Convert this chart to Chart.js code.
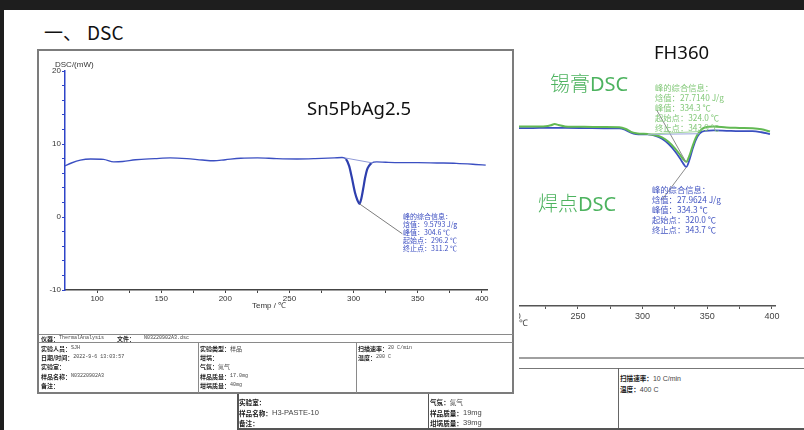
<!DOCTYPE html>
<html>
<head>
<meta charset="utf-8">
<script src="https://cdn.jsdelivr.net/npm/chart.js@4.4.1/dist/chart.umd.min.js"></script>
<style>
  html, body { margin: 0; padding: 0; background: #fff; }
  body { width: 804px; height: 430px; position: relative; overflow: hidden; font-family: "Liberation Sans", Arial, sans-serif; }
  .abs { position: absolute; white-space: nowrap; }
  .cjk { font-family: "Noto Sans CJK SC", sans-serif; }
  .hl { position: absolute; height: 0; border-top: 1px solid #8a8a8a; }
  .vl { position: absolute; width: 0; border-left: 1px solid #8a8a8a; }
  .row { position: absolute; white-space: nowrap; overflow: visible; color: #444; }
  .row b { font-family: "Noto Sans CJK SC", sans-serif; font-weight: 700; color: #222; vertical-align: top; }
  .row i { font-style: normal; vertical-align: top; color: #444; }
  .note { font-family: "Noto Sans CJK SC", sans-serif; }
</style>
</head>
<body>
<!-- dark frame strips -->
<div class="abs" style="left:0;top:0;width:804px;height:10px;background:#1e1e1e"></div>
<div class="abs" style="left:0;top:0;width:4px;height:430px;background:#1e1e1e"></div>

<div class="abs cjk" style="left:44px;top:19px;font-size:19px;line-height:26px;color:#111">一、<span style="margin-left:5px">DSC</span></div>

<!-- right plot (FH360), clipped on its left side -->
<div class="abs" style="left:519px;top:40px;width:285px;height:300px;overflow:hidden">
  <canvas id="fh" width="324" height="300" style="position:absolute;left:-39px;top:0;width:324px;height:300px"></canvas>
  <div class="abs" style="left:-51px;top:278px;width:60px;text-align:right;font-size:9px;line-height:10px;color:#444">Temp / ℃</div>
</div>
<div class="abs" style="left:654px;top:39px;font-family:'Noto Sans',sans-serif;font-size:18.5px;line-height:26px;color:#111">FH360</div>
<div class="abs" style="left:550px;top:69px;font-size:20px;line-height:28px;color:#4db35f"><span class="cjk" style="font-weight:300">锡膏</span><span style="font-family:'Noto Sans',sans-serif">DSC</span></div>
<div class="abs" style="left:538px;top:189px;font-size:20px;line-height:28px;color:#4db35f"><span class="cjk" style="font-weight:300">焊点</span><span style="font-family:'Noto Sans',sans-serif">DSC</span></div>
<div class="abs note" style="left:655px;top:82px;font-size:8.3px;line-height:10px;color:#84c97a">峰的综合信息：<br>焓值：27.7140 J/g<br>峰值：334.3 ℃<br>起始点：324.0 ℃<br>终止点：343.9 ℃</div>
<div class="abs note" style="left:652px;top:184px;font-size:8.3px;line-height:10px;color:#4456c2">峰的综合信息：<br>焓值：27.9624 J/g<br>峰值：334.3 ℃<br>起始点：320.0 ℃<br>终止点：343.7 ℃</div>

<!-- right info table frame -->
<div class="hl" style="left:519px;top:357px;width:285px;border-top:2px solid #a0a0a0"></div>
<div class="hl" style="left:519px;top:368px;width:285px;border-top-color:#777"></div>
<div class="vl" style="left:618px;top:368px;height:61px;border-left-color:#666"></div>
<div class="hl" style="left:237px;top:428px;width:567px;border-top:2px solid #555"></div>
<div class="vl" style="left:237px;top:393px;height:36px;border-left:2px solid #555"></div>
<div class="vl" style="left:428px;top:393px;height:36px;border-left-color:#555"></div>

<!-- left panel (Sn5PbAg2.5) -->
<div class="abs" style="left:37px;top:49px;width:477px;height:345px;box-sizing:border-box;border:2px solid #7c7c7c;background:#fff"></div>
<canvas id="sn" class="abs" width="475" height="285" style="left:38px;top:50px;width:475px;height:285px"></canvas>
<div class="abs" style="left:55px;top:60px;font-size:8px;line-height:9px;color:#333">DSC/(mW)</div>
<div class="abs" style="left:252px;top:301px;font-size:8px;line-height:10px;color:#333">Temp / ℃</div>
<div class="abs" style="left:307px;top:94px;font-family:'Noto Sans',sans-serif;font-size:18.5px;line-height:28px;color:#111">Sn5PbAg2.5</div>
<div class="abs note" style="left:403px;top:212px;font-size:7px;line-height:8px;color:#3a4cc0">峰的综合信息：<br>焓值：9.5793 J/g<br>峰值：304.6 ℃<br>起始点：296.2 ℃<br>终止点：311.2 ℃</div>

<div class="hl" style="left:39px;top:334px;width:474px"></div>
<div class="hl" style="left:39px;top:342px;width:474px"></div>
<div class="vl" style="left:198px;top:342px;height:51px"></div>
<div class="vl" style="left:356px;top:342px;height:51px"></div>

<script>
// ---- Sn5PbAg2.5 heat-flow trace (temperature in °C, DSC in mW) ----
const snTemp = [75, 80, 87, 95, 105, 113, 120, 130, 145, 157, 170, 182, 191, 200, 212, 225, 240, 256, 270, 285, 291, 294, 296.5, 298.5, 301, 303, 304.6, 306, 307.5, 309, 310.5, 312, 314, 318, 325, 336, 350, 365, 380, 395, 403];
const snDsc  = [7.0, 7.4, 7.8, 7.95, 7.9, 7.55, 7.6, 7.85, 8.0, 8.1, 8.0, 7.8, 7.7, 7.85, 8.05, 8.1, 8.0, 7.95, 8.0, 8.1, 8.15, 7.95, 7.0, 5.5, 3.4, 2.3, 1.8, 2.5, 3.9, 5.4, 6.5, 7.0, 7.4, 7.55, 7.5, 7.45, 7.45, 7.4, 7.35, 7.2, 7.1];
// integration baseline under the melting peak
const snBaseTemp = [293, 315];
const snBaseDsc  = [8.1, 7.4];
// leader from the peak to its note
const snLeadTemp = [304.6, 338];
const snLeadDsc  = [1.8, -2.3];
const snXTicks  = [100, 125, 150, 175, 200, 225, 250, 275, 300, 325, 350, 375, 400];
const snXLabels = [100, 150, 200, 250, 300, 350, 400];
const snYLabels = [-10, 0, 10, 20];

// ---- FH360: solder paste vs. solder joint traces ----
const fhTemp  = [204, 215, 225, 229, 232, 235, 240, 255, 270, 282, 287, 291, 295, 299, 304, 310, 315, 320, 325, 329, 331.5, 333.8, 336, 338.5, 341, 344, 348, 355, 365, 375, 385, 392, 398.5];
const fhPaste = [14.6, 14.58, 14.62, 14.75, 14.92, 14.8, 14.6, 14.55, 14.52, 14.5, 14.25, 13.85, 13.65, 13.6, 13.55, 13.4, 13.1, 12.5, 11.6, 10.7, 10.1, 9.75, 10.5, 11.8, 13.0, 13.9, 14.45, 14.6, 14.45, 14.4, 14.35, 14.2, 13.9];
const fhJoint = [14.38, 14.38, 14.4, 14.4, 14.4, 14.4, 14.4, 14.38, 14.35, 14.35, 14.1, 13.75, 13.55, 13.5, 13.5, 13.3, 12.9, 12.2, 11.2, 10.2, 9.5, 9.05, 9.9, 11.4, 12.7, 13.6, 14.0, 14.05, 14.0, 13.95, 13.95, 13.8, 13.55];
const fhPasteBaseTemp = [304, 344];
const fhPasteBaseVal  = [13.55, 13.9];
const fhJointBaseTemp = [304, 344];
const fhJointBaseVal  = [13.5, 13.6];
const fhPasteLeadTemp = [310.9, 333.6];
const fhPasteLeadVal  = [16.85, 9.7];
const fhJointLeadTemp = [333.8, 314.8];
const fhJointLeadVal  = [9.0, 4.5];
const fhXTicks  = [200, 225, 250, 275, 300, 325, 350, 375, 400];
const fhXLabels = [200, 250, 300, 350, 400];

// ---- instrument record fields ----
const snHeader = [["仪器：", "ThermalAnalysis"], ["文件：", "   N03220902A3.dsc"]];
const snCol1 = [["实验人员：", "SJH"], ["日期/时间：", "2022-9-6 13:03:57"], ["实验室：", ""], ["样品名称：", "N03220902A3"], ["备注：", ""]];
const snCol2 = [["实验类型：", "样品"], ["坩埚：", ""], ["气氛：", "氮气"], ["样品质量：", "17.0mg"], ["坩埚质量：", "40mg"]];
const snCol3 = [["扫描速率：", "20 C/min"], ["温度：", "200 C"]];
const fhCol1 = [["实验室：", ""], ["样品名称：", "H3-PASTE-10"], ["备注：", ""]];
const fhCol2 = [["气氛：", "氮气"], ["样品质量：", "19mg"], ["坩埚质量：", "39mg"]];
const fhCol3 = [["扫描速率：", "10 C/min"], ["温度：", "400 C"]];

function addRows(rows, x, y0, step, labelSize, valueSize, valueFont) {
  rows.forEach((r, i) => {
    const d = document.createElement('div');
    d.className = 'row';
    d.style.left = x + 'px';
    d.style.top = (y0 + i * step) + 'px';
    d.style.height = step + 'px';
    d.style.lineHeight = step + 'px';
    const b = document.createElement('b');
    b.style.fontSize = labelSize + 'px';
    b.style.lineHeight = step + 'px';
    b.textContent = r[0];
    const v = document.createElement('i');
    const cjk = /[\u4e00-\u9fff]/.test(r[1]);
    v.style.fontFamily = cjk ? '"Noto Sans CJK SC", sans-serif' : valueFont;
    v.style.fontSize = (cjk ? labelSize : valueSize) + 'px';
    v.style.lineHeight = step + 'px';
    v.style.whiteSpace = 'pre';
    v.style.color = '#444';
    v.textContent = r[1];
    d.appendChild(b); d.appendChild(v);
    document.body.appendChild(d);
  });
}
const mono = '"Liberation Mono", monospace';
const sans = '"Liberation Sans", Arial, sans-serif';
addRows([snHeader[0]], 41, 334.5, 7.5, 6, 5, mono);
addRows([snHeader[1]], 117, 334.5, 7.5, 6, 5, mono);
addRows(snCol1, 41, 343.5, 9.4, 6, 5, mono);
addRows(snCol2, 200, 343.5, 9.4, 6, 5, mono);
addRows(snCol3, 358, 343.5, 9.4, 6, 5, mono);
addRows(fhCol1, 239, 397, 10.6, 6.6, 7.5, sans);
addRows(fhCol2, 430, 397, 10.6, 6.6, 7.5, sans);
addRows(fhCol3, 620, 372.5, 11.5, 6.6, 7, sans);

const pts = (xs, ys) => xs.map((x, i) => ({ x: x, y: ys[i] }));
const line = (xs, ys, color, width, extra) => Object.assign({
  data: pts(xs, ys), borderColor: color, borderWidth: width,
  pointRadius: 0, fill: false, tension: 0
}, extra || {});

const noChrome = { legend: { display: false }, tooltip: { enabled: false } };
const inPeak = c => c.p0.parsed.x >= snBaseTemp[0] && c.p1.parsed.x <= snBaseTemp[1];

// Left chart
new Chart(document.getElementById('sn'), {
  type: 'line',
  data: {
    datasets: [
      line(snBaseTemp, snBaseDsc, '#8f99d6', 1),
      line(snLeadTemp, snLeadDsc, '#7d7d7d', 1),
      line(snTemp, snDsc, '#3b4fc2', 1.4, {
        cubicInterpolationMode: 'monotone',
        segment: {
          borderWidth: c => inPeak(c) ? 2.2 : 1.4,
          borderColor: c => inPeak(c) ? '#2e3fae' : '#3b4fc2'
        }
      })
    ]
  },
  options: {
    responsive: false, animation: false, events: [],
    plugins: noChrome,
    layout: { padding: { top: 21, right: 26, left: 0, bottom: 0 } },
    scales: {
      x: {
        type: 'linear', min: 75, max: 404,
        afterBuildTicks: s => { s.ticks = snXTicks.map(v => ({ value: v })); },
        afterFit: s => { s.height = 45; },
        ticks: {
          autoSkip: false, maxRotation: 0, padding: 1, color: '#333',
          font: { family: 'Liberation Sans', size: 8 },
          callback: v => snXLabels.includes(v) ? String(v) : ''
        },
        grid: { drawOnChartArea: false, drawTicks: true, tickLength: 3, color: '#444' },
        border: { color: '#444', width: 1.5 }
      },
      y: {
        type: 'linear', min: -10, max: 20,
        ticks: {
          stepSize: 2, autoSkip: false, padding: 1, color: '#333',
          font: { family: 'Liberation Sans', size: 8 },
          callback: v => snYLabels.includes(v) ? String(v) : ''
        },
        afterFit: s => { s.width = 27; },
        grid: { drawOnChartArea: false, drawTicks: true, tickLength: 3, color: '#2e44c8' },
        border: { color: '#2e44c8', width: 1.5 }
      }
    }
  }
});

// Right chart
new Chart(document.getElementById('fh'), {
  type: 'line',
  data: {
    datasets: [
      line(fhPasteBaseTemp, fhPasteBaseVal, '#9fd39a', 1),
      line(fhJointBaseTemp, fhJointBaseVal, '#98a3dc', 1),
      line(fhPasteLeadTemp, fhPasteLeadVal, '#8a8a8a', 1),
      line(fhJointLeadTemp, fhJointLeadVal, '#8a8a8a', 1),
      line(fhTemp, fhPaste, '#62b953', 2, { cubicInterpolationMode: 'monotone' }),
      line(fhTemp, fhJoint, '#3a4fc0', 1.8, { cubicInterpolationMode: 'monotone' })
    ]
  },
  options: {
    responsive: false, animation: false, events: [],
    plugins: noChrome,
    layout: { padding: { top: 47, right: 29, left: 33.3, bottom: 0 } },
    scales: {
      x: {
        type: 'linear', min: 200, max: 402.4,
        afterBuildTicks: s => { s.ticks = fhXTicks.map(v => ({ value: v })); },
        afterFit: s => { s.height = 34; },
        ticks: {
          autoSkip: false, maxRotation: 0, padding: 2, color: '#444',
          font: { family: 'Liberation Sans', size: 9 },
          callback: v => fhXLabels.includes(v) ? String(v) : ''
        },
        grid: { drawOnChartArea: false, drawTicks: true, tickLength: 3, color: '#555' },
        border: { color: '#555', width: 1.5 }
      },
      y: { type: 'linear', min: -10, max: 20, display: false }
    }
  }
});
</script>
</body>
</html>
